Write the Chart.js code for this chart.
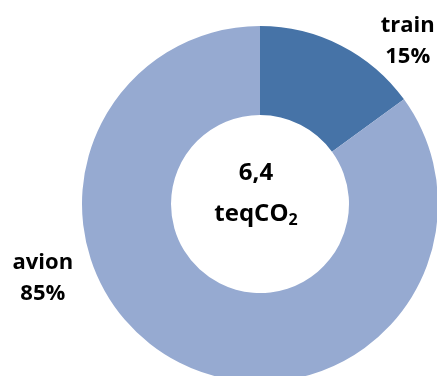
<!DOCTYPE html>
<html>
<head>
<meta charset="utf-8">
<script src="https://cdn.jsdelivr.net/npm/chart.js@4"></script>
<style>
  html, body { margin: 0; padding: 0; background: #fff; overflow: hidden; }
  #wrap { position: absolute; left: 0; top: 0; width: 440px; height: 400px; }
</style>
</head>
<body>
<div id="wrap"><canvas id="chartCO2" width="440" height="400"></canvas></div>
<script>
const modes = ['train', 'avion']
const shares = [15, 85]
const colors = ['#4673A7', '#96AAD1']
const totalValue = '6,4'
const totalUnit = 'teqCO'

const FAMILY = '"Open Sans", "Noto Sans", sans-serif'
const FONT = 'bold 22px ' + FAMILY
const CENTER_FONT = 'bold 24px ' + FAMILY
const SUB_FONT = 'bold 16px ' + FAMILY

// where each label block sits, in outer-radius units from the centre
const labelSpots = [[0.83, -0.882], [-1.22, 0.45]]

const sliceLabels = {
  id: 'sliceLabels',
  afterDatasetsDraw(chart) {
    const ctx = chart.ctx
    const arcs = chart.getDatasetMeta(0).data
    ctx.save()
    ctx.font = FONT
    ctx.fillStyle = '#000'
    ctx.textAlign = 'center'
    ctx.textBaseline = 'alphabetic'
    arcs.forEach((arc, i) => {
      const x = arc.x + labelSpots[i][0] * arc.outerRadius
      const y = arc.y + labelSpots[i][1] * arc.outerRadius
      ctx.fillText(modes[i], x, y - 15)
      ctx.fillText(shares[i] + '%', x, y + 16)
    })

    // total in the hole
    const a = arcs[0]
    ctx.font = CENTER_FONT
    ctx.fillText(totalValue, a.x - 4, a.y - 24)
    const w = ctx.measureText(totalUnit).width
    ctx.font = SUB_FONT
    const w2 = ctx.measureText('2').width
    const left = a.x - 4 - (w + w2) / 2
    ctx.textAlign = 'left'
    ctx.font = CENTER_FONT
    ctx.fillText(totalUnit, left, a.y + 17)
    ctx.font = SUB_FONT
    ctx.fillText('2', left + w, a.y + 21)
    ctx.restore()
  }
}

new Chart(document.getElementById('chartCO2'), {
  type: 'doughnut',
  data: {
    labels: modes,
    datasets: [{
      data: shares,
      backgroundColor: colors,
      borderWidth: 0
    }]
  },
  options: {
    responsive: false,
    animation: false,
    cutout: '50%',
    layout: { padding: { left: 82, right: 2, top: 26, bottom: 18 } },
    plugins: {
      legend: { display: false },
      tooltip: { enabled: false }
    }
  },
  plugins: [sliceLabels]
})
</script>
</body>
</html>
